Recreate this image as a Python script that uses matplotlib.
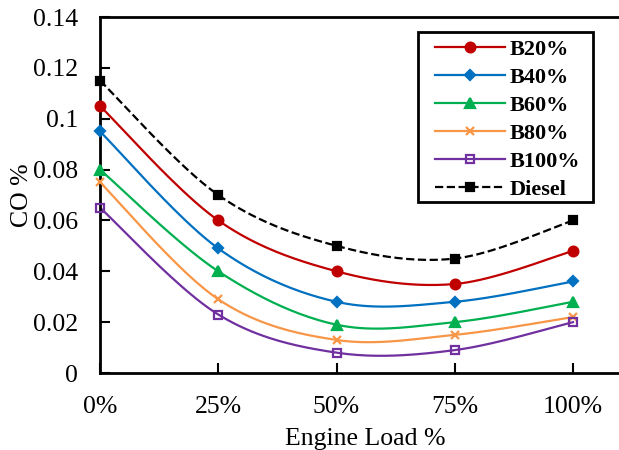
import matplotlib
matplotlib.use("Agg")
import matplotlib.pyplot as plt
from matplotlib.patches import Rectangle
import numpy as np

plt.rcParams['font.family'] = ['Liberation Serif', 'DejaVu Serif']

# data
load = [0, 25, 50, 75, 100]
load_labels = ['0%', '25%', '50%', '75%', '100%']
b20 = [0.105, 0.060, 0.040, 0.035, 0.048]
b40 = [0.095, 0.049, 0.028, 0.028, 0.036]
b60 = [0.080, 0.040, 0.019, 0.020, 0.028]
b80 = [0.075, 0.029, 0.013, 0.015, 0.022]
b100 = [0.065, 0.023, 0.008, 0.009, 0.020]
diesel = [0.115, 0.070, 0.050, 0.045, 0.060]


def smooth(x, y, n=40):
    # excel style smoothed line (catmull-rom -> bezier)
    p = np.column_stack([x, y]).astype(float)
    p_ext = np.vstack([p[0], p, p[-1]])
    out = []
    t = np.linspace(0, 1, n)[:, None]
    for i in range(len(p) - 1):
        p0, p1, p2, p3 = p_ext[i], p_ext[i + 1], p_ext[i + 2], p_ext[i + 3]
        c1 = p1 + (p2 - p0) / 6
        c2 = p2 - (p3 - p1) / 6
        seg = ((1 - t) ** 3) * p1 + 3 * ((1 - t) ** 2) * t * c1 + 3 * (1 - t) * t ** 2 * c2 + t ** 3 * p2
        out.append(seg if i == 0 else seg[1:])
    out = np.vstack(out)
    return out[:, 0], out[:, 1]


W, H = 619, 450
fig = plt.figure(figsize=(W / 100, H / 100), dpi=100)
# plot area runs past the right edge of the picture
ax = fig.add_axes([100 / W, 77 / H, 530 / W, 356 / H])

series = [
    ('B20%', b20, '#C00000', 'o', '-', 7, 'full'),
    ('B40%', b40, '#0070C0', 'D', '-', 5, 'full'),
    ('B60%', b60, '#00B050', '^', '-', 7, 'full'),
    ('B80%', b80, '#F79646', 'x', '-', 6, 'full'),
    ('B100%', b100, '#7030A0', 's', '-', 6, 'none'),
    ('Diesel', diesel, 'black', 's', '--', 6, 'full'),
]

for name, vals, col, mk, ls, ms, fill in series:
    sx, sy = smooth(load, vals)
    ax.plot(sx, sy, color=col, lw=1.6, ls=ls, zorder=2)
    ax.plot(load, vals, ls='none', marker=mk, ms=ms, color=col,
            fillstyle=fill, mew=1.6, zorder=3, clip_on=False)
    ax.plot([], [], color=col, ls=ls, lw=1.6, marker=mk, ms=ms,
            fillstyle=fill, mew=1.6, label=name)

ax.set_xlim(0, 100 * 530 / 473)
ax.set_ylim(0, 0.14)
ax.set_xticks(load)
ax.set_xticklabels(load_labels)
ax.set_yticks(np.arange(0, 0.141, 0.02))
ax.set_yticklabels(['0', '0.02', '0.04', '0.06', '0.08', '0.1', '0.12', '0.14'])
ax.tick_params(direction='in', length=7, width=1.5, labelsize=18.5)
ax.tick_params(axis='y', pad=16)
ax.tick_params(axis='x', pad=16.5)
for s in ax.spines.values():
    s.set_linewidth(2)

ax.set_xlabel('Engine Load %', fontsize=18.5, labelpad=7)
ax.set_ylabel('CO %', fontsize=18.5)
ax.yaxis.set_label_coords(-67 / 530, 0.5)

# legend without its own frame, box drawn separately
leg = ax.legend(loc='upper left',
                bbox_to_anchor=((435 - 100) / 530, (H - 77 - 39) / 356),
                frameon=False, prop={'weight': 'bold', 'size': 16},
                handlelength=3.15, handletextpad=0.22, labelspacing=0.34,
                borderpad=0, borderaxespad=0)
box = Rectangle((418 / W, 1 - 202 / H), 175 / W, 170 / H, transform=fig.transFigure,
                fill=False, edgecolor='black', lw=2, zorder=5)
fig.patches.append(box)

fig.savefig('out.png', dpi=100)
